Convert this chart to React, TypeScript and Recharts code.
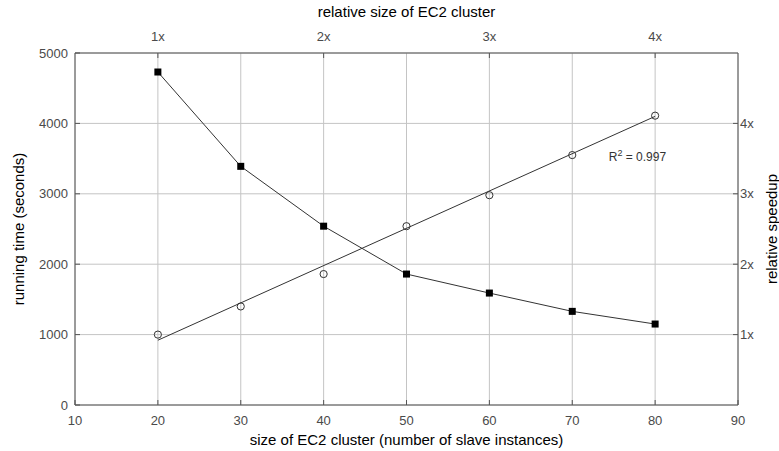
import React from "react";
import {
  ComposedChart,
  Line,
  XAxis,
  YAxis,
  CartesianGrid,
  ReferenceDot,
} from "recharts";

// ---- data ----
const clusterSize = [20, 30, 40, 50, 60, 70, 80];
const runningTime = [4730, 3390, 2540, 1860, 1590, 1330, 1150];
const relativeSpeedup = [1.0, 1.4, 1.86, 2.54, 2.98, 3.55, 4.11];
// linear fit (R^2 = 0.997), endpoints
const fitX = [20, 80];
const fitY = [0.92, 4.1];

const bottomTicks = [10, 20, 30, 40, 50, 60, 70, 80, 90];
const topTicks = [20, 40, 60, 80];
const leftTicks = [0, 1000, 2000, 3000, 4000, 5000];
const rightTicks = [1, 2, 3, 4];

const data = clusterSize.map((x, i) => {
  const fi = fitX.indexOf(x);
  return {
    x,
    time: runningTime[i],
    speedup: relativeSpeedup[i],
    fit: fi >= 0 ? fitY[fi] : null,
  };
});

const FONT = "'Liberation Sans', Arial, sans-serif";
const TICK_COLOR = "#4a4a4a";
const FRAME = "#555";
const GRID = "#c4c4c4";

const tickStyle = { fontSize: 13, fill: TICK_COLOR, fontFamily: FONT };

const Title = (props: any) => {
  const { viewBox, value, kind } = props;
  if (!viewBox) return null;
  const { x, y, width, height } = viewBox;
  const common = {
    fontSize: 15,
    fill: "#000",
    fontFamily: FONT,
    textAnchor: "middle" as const,
  };
  if (kind === "left" || kind === "right") {
    const cx = kind === "left" ? x + 18 : x + 33;
    const cy = y + height / 2;
    return (
      <text
        {...common}
        x={cx}
        y={cy}
        dominantBaseline="central"
        transform={`rotate(-90, ${cx}, ${cy})`}
      >
        {value}
      </text>
    );
  }
  const cx = x + width / 2;
  const by = kind === "top" ? y + 17 : y + 40;
  return (
    <text {...common} x={cx} y={by}>
      {value}
    </text>
  );
};

const SquareDot = (props: any) => {
  const { cx, cy } = props;
  if (cx == null || cy == null) return null;
  return <rect x={cx - 3.5} y={cy - 3.5} width={7} height={7} fill="#000" />;
};

const CircleDot = (props: any) => {
  const { cx, cy } = props;
  if (cx == null || cy == null) return null;
  return <circle cx={cx} cy={cy} r={3.6} fill="none" stroke="#333" strokeWidth={1} />;
};

const R2Label = (props: any) => {
  const { viewBox } = props;
  if (!viewBox) return null;
  const x = viewBox.cx ?? viewBox.x;
  const y = viewBox.cy ?? viewBox.y;
  return (
    <text x={x} y={y + 4} fontSize={12} fill="#333" fontFamily={FONT}>
      R
      <tspan dy={-5} fontSize={9}>
        2
      </tspan>
      <tspan dy={5}> = 0.997</tspan>
    </text>
  );
};

export default function App() {
  return (
    <div style={{ position: "absolute", left: 0, top: 0, background: "#fff" }}>
      <ComposedChart
        width={779}
        height={451}
        data={data}
        margin={{ top: 0, right: 0, bottom: 0, left: 0 }}
      >
        <CartesianGrid stroke={GRID} strokeWidth={1} />
        <XAxis
          dataKey="x"
          type="number"
          domain={[10, 90]}
          ticks={bottomTicks}
          height={46}
          tickSize={-5}
          tickMargin={16}
          tick={tickStyle}
          axisLine={{ stroke: FRAME }}
          tickLine={{ stroke: FRAME }}
          allowDataOverflow
          label={<Title kind="bottom" value="size of EC2 cluster (number of slave instances)" />}
        />
        <XAxis
          xAxisId="top"
          dataKey="x"
          type="number"
          orientation="top"
          domain={[10, 90]}
          ticks={topTicks}
          tickFormatter={(v: number) => `${v / 20}x`}
          height={53}
          tickSize={-5}
          tickMargin={17}
          tick={tickStyle}
          axisLine={{ stroke: FRAME }}
          tickLine={{ stroke: FRAME }}
          allowDataOverflow
          label={<Title kind="top" value="relative size of EC2 cluster" />}
        />
        <YAxis
          type="number"
          domain={[0, 5000]}
          ticks={leftTicks}
          width={75}
          tickSize={-5}
          tickMargin={12}
          tick={tickStyle}
          axisLine={{ stroke: FRAME }}
          tickLine={{ stroke: FRAME }}
          allowDataOverflow
          label={<Title kind="left" value="running time (seconds)" />}
        />
        <YAxis
          yAxisId="right"
          orientation="right"
          type="number"
          domain={[0, 5]}
          ticks={rightTicks}
          tickFormatter={(v: number) => `${v}x`}
          width={41}
          tickSize={-5}
          tickMargin={7}
          tick={tickStyle}
          axisLine={{ stroke: FRAME }}
          tickLine={{ stroke: FRAME }}
          allowDataOverflow
          label={<Title kind="right" value="relative speedup" />}
        />
        <Line
          yAxisId="right"
          dataKey="fit"
          stroke="#333"
          strokeWidth={1}
          dot={false}
          connectNulls
          isAnimationActive={false}
        />
        <Line
          yAxisId="right"
          dataKey="speedup"
          stroke="none"
          strokeWidth={0}
          dot={<CircleDot />}
          isAnimationActive={false}
        />
        <Line
          dataKey="time"
          stroke="#333"
          strokeWidth={1}
          dot={<SquareDot />}
          isAnimationActive={false}
        />
        <ReferenceDot
          yAxisId="right"
          x={74.4}
          y={3.52}
          r={0}
          fill="none"
          stroke="none"
          label={<R2Label />}
        />
      </ComposedChart>
    </div>
  );
}
